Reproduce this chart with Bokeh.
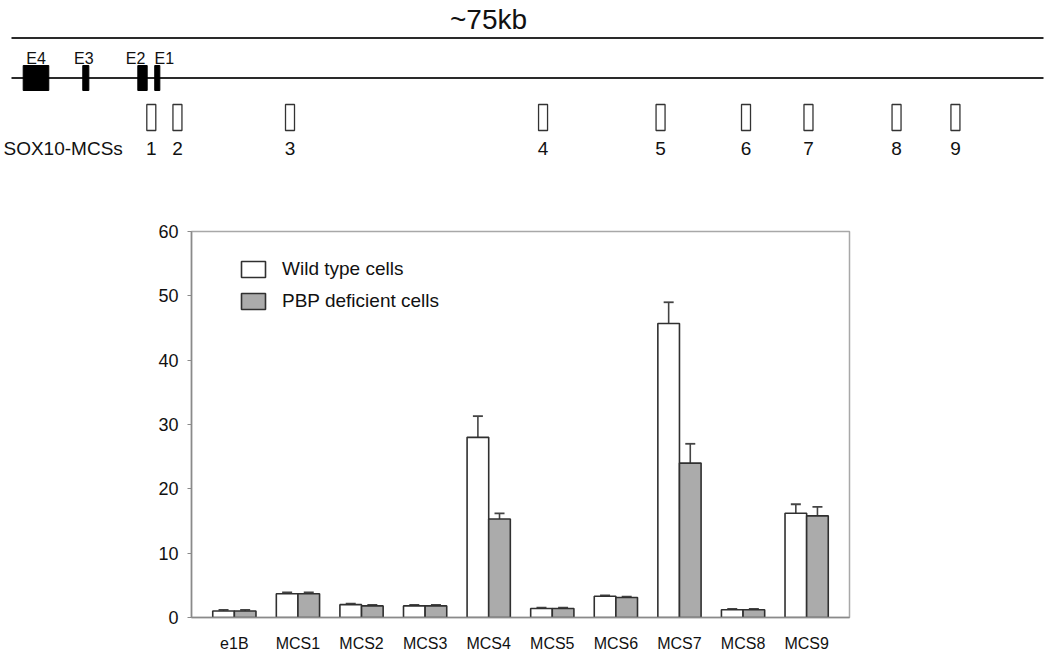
from bokeh.plotting import figure
from bokeh.models import (Range1d, FactorRange, Legend, LegendItem, Whisker, TeeHead,
                          ColumnDataSource, Label, FixedTicker)
from bokeh.transform import dodge
from bokeh.embed import file_html
from bokeh.resources import INLINE
from bokeh.core.properties import value

FONT = "Liberation Sans"

# ---------------- gene diagram data ----------------
locus_kb = 75
exon_names = ["E4", "E3", "E2", "E1"]
exon_start_kb = [0.85, 5.18, 9.18, 10.41]
exon_end_kb = [2.71, 5.62, 9.86, 10.78]
exon_label_nudge_px = [0, -2, -7, 7]
mcs_ids = ["1", "2", "3", "4", "5", "6", "7", "8", "9"]
mcs_pos_kb = [10.16, 12.06, 20.24, 38.63, 47.17, 53.38, 57.92, 64.32, 68.60]

# ---------------- bar chart data ----------------
categories = ["e1B", "MCS1", "MCS2", "MCS3", "MCS4", "MCS5", "MCS6", "MCS7", "MCS8", "MCS9"]
wild_type = [1.0, 3.7, 2.0, 1.8, 28.0, 1.4, 3.3, 45.7, 1.2, 16.2]
wild_type_err = [0.2, 0.2, 0.15, 0.15, 3.3, 0.15, 0.15, 3.3, 0.15, 1.4]
pbp_deficient = [1.0, 3.7, 1.8, 1.8, 15.3, 1.4, 3.1, 24.0, 1.2, 15.8]
pbp_deficient_err = [0.2, 0.2, 0.15, 0.15, 0.9, 0.15, 0.15, 3.0, 0.15, 1.4]
y_ticks = [0, 10, 20, 30, 40, 50, 60]
series_names = ["Wild type cells", "PBP deficient cells"]

# ---------------- layout constants ----------------
W = 1050
TOP_H = 165
BOT_H = 655 - TOP_H
PX_PER_KB = 1032 / locus_kb
LINE_LEFT_PX = 11

# ================= top: gene diagram =================
top = figure(width=W, height=TOP_H,
             x_range=Range1d(-LINE_LEFT_PX / PX_PER_KB, (W - LINE_LEFT_PX) / PX_PER_KB),
             y_range=Range1d(TOP_H, 0),
             x_axis_location=None, y_axis_location=None,
             output_backend="svg", toolbar_location=None, min_border=0)
top.outline_line_color = None
top.grid.visible = False

ROW_SCALE = 37.5
ROW_GENE = 77.5
top.segment(x0=[0, 0], x1=[locus_kb, locus_kb], y0=[ROW_SCALE, ROW_GENE], y1=[ROW_SCALE, ROW_GENE],
            line_color="#2a2a2a", line_width=2)
top.quad(left=exon_start_kb, right=exon_end_kb, top=ROW_GENE - 12.5, bottom=ROW_GENE + 12.5,
         fill_color="black", line_color="black")
exon_centers = [(a + b) / 2 for a, b in zip(exon_start_kb, exon_end_kb)]
top.text(x=exon_centers, y=ROW_GENE - 20, text=exon_names, x_offset=exon_label_nudge_px,
         text_align="center", text_baseline="middle", text_font=value(FONT),
         text_font_size="16px", text_color="#111111")
top.rect(x=mcs_pos_kb, y=117, width=9, width_units="screen", height=26,
         fill_color="white", line_color="#333333", line_width=1.3)
top.text(x=mcs_pos_kb, y=148, text=mcs_ids, text_align="center", text_baseline="middle",
         text_font=value(FONT), text_font_size="19px", text_color="#111111")
top.add_layout(Label(x=3, x_units="screen", y=148, text="SOX10-MCSs", text_align="left",
                     text_baseline="middle", text_font=FONT, text_font_size="19px",
                     text_color="#111111"))
top.add_layout(Label(x=488, x_units="screen", y=19, text="~75kb", text_align="center",
                     text_baseline="middle", text_font=FONT, text_font_size="28px",
                     text_color="#111111"))

# ================= bottom: bar chart =================
src = ColumnDataSource(dict(
    cat=categories,
    wt=wild_type,
    wt_up=[v + e for v, e in zip(wild_type, wild_type_err)],
    pbp=pbp_deficient,
    pbp_up=[v + e for v, e in zip(pbp_deficient, pbp_deficient_err)],
))

p = figure(width=W, height=BOT_H,
           x_range=FactorRange(*categories, range_padding=0.174, range_padding_units="absolute"),
           y_range=Range1d(0, 60),
           output_backend="svg", toolbar_location=None,
           min_border_left=191, min_border_right=W - 849,
           min_border_top=231 - TOP_H, min_border_bottom=TOP_H + BOT_H - 617)
p.outline_line_color = "#a8a8a8"
p.outline_line_width = 1.5
p.grid.visible = False

OFF = 0.17
BW = 0.34
r_wt = p.vbar(x=dodge("cat", -OFF, range=p.x_range), top="wt", width=BW, source=src,
              fill_color="white", line_color="#303030", line_width=1.6)
r_pbp = p.vbar(x=dodge("cat", OFF, range=p.x_range), top="pbp", width=BW, source=src,
               fill_color="#ababab", line_color="#303030", line_width=1.6)

for key, up, off in [("wt", "wt_up", -OFF), ("pbp", "pbp_up", OFF)]:
    p.add_layout(Whisker(base=dodge("cat", off, range=p.x_range), lower=key, upper=up, source=src,
                         lower_head=None,
                         upper_head=TeeHead(size=10, line_color="#444444", line_width=1.8),
                         line_color="#444444", line_width=1.6))

legend = Legend(items=[LegendItem(label=series_names[0], renderers=[r_wt]),
                       LegendItem(label=series_names[1], renderers=[r_pbp])],
                location=(47, 305), padding=0, margin=0, spacing=10,
                glyph_width=30, glyph_height=20, label_height=20, label_standoff=14,
                label_text_font=FONT, label_text_font_size="19px", label_text_color="#111111",
                border_line_color=None, background_fill_alpha=0)
p.add_layout(legend)

p.yaxis.ticker = FixedTicker(ticks=y_ticks)
p.yaxis.minor_tick_line_color = None
p.yaxis.major_tick_out = 4
p.yaxis.major_tick_in = 0
p.yaxis.major_label_standoff = 9
p.yaxis.major_label_text_font = FONT
p.yaxis.major_label_text_font_size = "18px"
p.yaxis.major_label_text_color = "#111111"
p.xaxis.major_tick_out = 0
p.xaxis.major_tick_in = 0
p.xaxis.major_label_standoff = 17
p.xaxis.major_label_text_font = FONT
p.xaxis.major_label_text_font_size = "16px"
p.xaxis.major_label_text_color = "#111111"
for ax in (p.xaxis, p.yaxis):
    ax.axis_line_color = "#8a8a8a"
    ax.axis_line_width = 1.5
    ax.major_tick_line_color = "#8a8a8a"

open("out.html", "w").write(file_html([top, p], INLINE))
